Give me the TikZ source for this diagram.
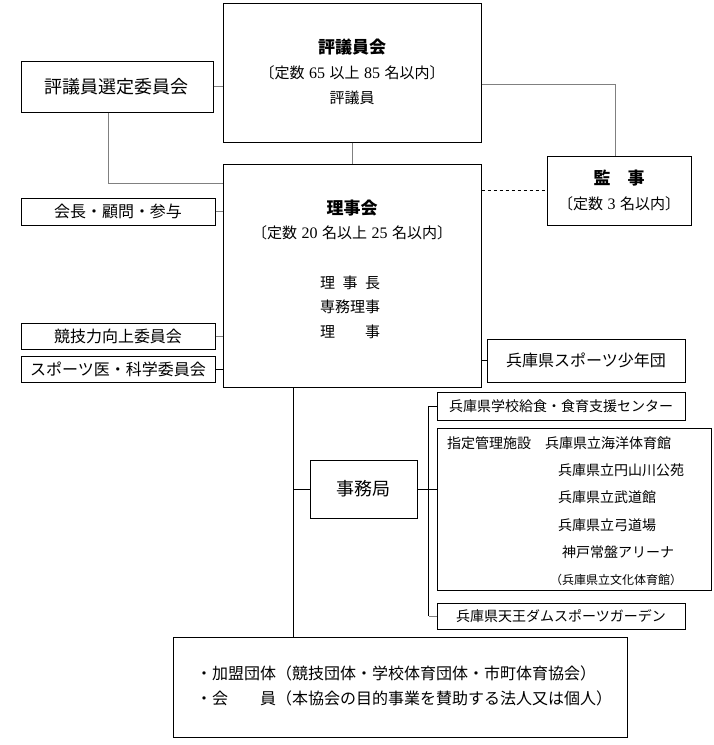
\documentclass[tikz,border=0pt]{standalone}
\usepackage{fontspec}
\setmainfont{Noto Sans CJK JP}
\newfontfamily\dgf{Liberation Serif}
\newcommand{\dg}[1]{\hspace{0.3em}{\dgf\fontsize{16}{16}\selectfont #1}\hspace{0.3em}}
\begin{document}
\begin{tikzpicture}[x=1pt,y=-1pt,
  box/.style={draw, line width=1pt, inner sep=0pt},
  txt/.style={inner sep=0pt, font=\fontsize{15}{15}\selectfont},
  ttl/.style={inner sep=0pt, font=\fontsize{17}{17}\selectfont\bfseries},
  gline/.style={draw=gray, line width=1pt},
  bline/.style={draw=black, line width=1pt}]
\useasboundingbox (0,0) rectangle (713,745);
% boxes
\node[box, minimum width=192pt, minimum height=51pt, font=\fontsize{18}{18}\selectfont] (sen) at (117,86.5) {評議員選定委員会};
\node[box, minimum width=258pt, minimum height=139pt] (hyo) at (352,72.5) {};
\node[box, minimum width=144pt, minimum height=69pt] (kan) at (619,190.5) {};
\node[box, minimum width=258pt, minimum height=223pt] (rij) at (352,275.5) {};
\node[box, minimum width=194pt, minimum height=27pt, font=\fontsize{16}{16}\selectfont] (kai) at (118,211.5) {会長・顧問・参与};
\node[box, minimum width=194pt, minimum height=26pt, font=\fontsize{16}{16}\selectfont] (kyo) at (118,336) {競技力向上委員会};
\node[box, minimum width=194pt, minimum height=26pt, font=\fontsize{16}{16}\selectfont] (spo) at (118,369) {スポーツ医・科学委員会};
\node[box, minimum width=198pt, minimum height=43pt, font=\fontsize{16}{16}\selectfont] (sho) at (586,360.5) {兵庫県スポーツ少年団};
\node[box, minimum width=248pt, minimum height=28pt, font=\fontsize{14}{14}\selectfont] (kyu) at (561,406) {兵庫県学校給食・食育支援センター};
\node[box, minimum width=274pt, minimum height=162pt] (shi) at (574,509) {};
\node[box, minimum width=107pt, minimum height=58pt, font=\fontsize{18}{18}\selectfont] (jim) at (363.5,489) {事務局};
\node[box, minimum width=248pt, minimum height=26pt, font=\fontsize{14}{14}\selectfont] (ten) at (561,616) {兵庫県天王ダムスポーツガーデン};
\node[box, minimum width=454pt, minimum height=100pt] (bot) at (400,687) {};
% texts
\node[ttl] (hyo1) at (352,47) {評議員会};
\node[txt] (hyo2) at (352,73) {〔定数\dg{65}以上\dg{85}名以内〕};
\node[txt] (hyo3) at (352,98) {評議員};
\node[ttl] (rij1) at (352,208) {理事会};
\node[txt] (rij2) at (352,233) {〔定数\dg{20}名以上\dg{25}名以内〕};
\node[txt, anchor=west] (rij3) at (320,283) {理\hspace{0.5em}事\hspace{0.5em}長};
\node[txt, anchor=west] (rij4) at (320,307) {専務理事};
\node[txt, anchor=west] (rij5) at (320,332) {理　　事};
\node[ttl] (kan1) at (619,178) {監　事};
\node[txt] (kan2) at (619,204) {〔定数\dg{3}名以内〕};
\node[txt, anchor=west, font=\fontsize{14}{14}\selectfont] (f1) at (447,443) {指定管理施設　兵庫県立海洋体育館};
\node[txt, anchor=west, font=\fontsize{14}{14}\selectfont] (f2) at (558,470) {兵庫県立円山川公苑};
\node[txt, anchor=west, font=\fontsize{14}{14}\selectfont] (f3) at (558,497) {兵庫県立武道館};
\node[txt, anchor=west, font=\fontsize{14}{14}\selectfont] (f4) at (558,525) {兵庫県立弓道場};
\node[txt, anchor=west, font=\fontsize{14}{14}\selectfont] (f5) at (562,552) {神戸常盤アリーナ};
\node[txt, anchor=west, font=\fontsize{12}{12}\selectfont] (f6) at (550,580) {（兵庫県立文化体育館）};
\node[txt, anchor=west, font=\fontsize{16}{16}\selectfont] (b1) at (196,673) {・加盟団体（競技団体・学校体育団体・市町体育協会）};
\node[txt, anchor=west, font=\fontsize{16}{16}\selectfont] (b2) at (196,698) {・会　　員（本協会の目的事業を賛助する法人又は個人）};
% connectors
\draw[gline] (sen.east) -- (sen.east -| hyo.west);
\draw[gline] ([xshift=-9pt]sen.south) |- ([yshift=-20pt]rij.north west);
\draw[gline] (hyo.south) -- (rij.north);
\coordinate (kt) at ([xshift=-4pt]kan.north);
\draw[gline] ([yshift=-12pt]hyo.east) -| (kt);
\draw[bline, dashed] (kan.west -| rij.east) -- (kan.west);
\draw[gline] (kai.east) -- (kai.east -| rij.west);
\draw[gline] (kyo.east) -- (kyo.east -| rij.west);
\draw[bline] (spo.east) -- (spo.east -| rij.west);
\draw[bline] (sho.west) -- (sho.west -| rij.east);
\coordinate (tr) at ([xshift=-59pt]rij.south);
\draw[bline] (tr) -- (tr |- bot.north);
\draw[bline] (jim.west) -- (jim.west -| tr);
\coordinate (br) at ([xshift=11pt]jim.east);
\draw[bline] (jim.east) -- (br);
\draw[bline] (br) -- (br -| shi.west);
\draw[bline] (br |- kyu.west) -- (br |- ten.west);
\draw[bline] (br |- kyu.west) -- (kyu.west);
\draw[gline] (br |- ten.west) -- (ten.west);
\end{tikzpicture}
\end{document}
